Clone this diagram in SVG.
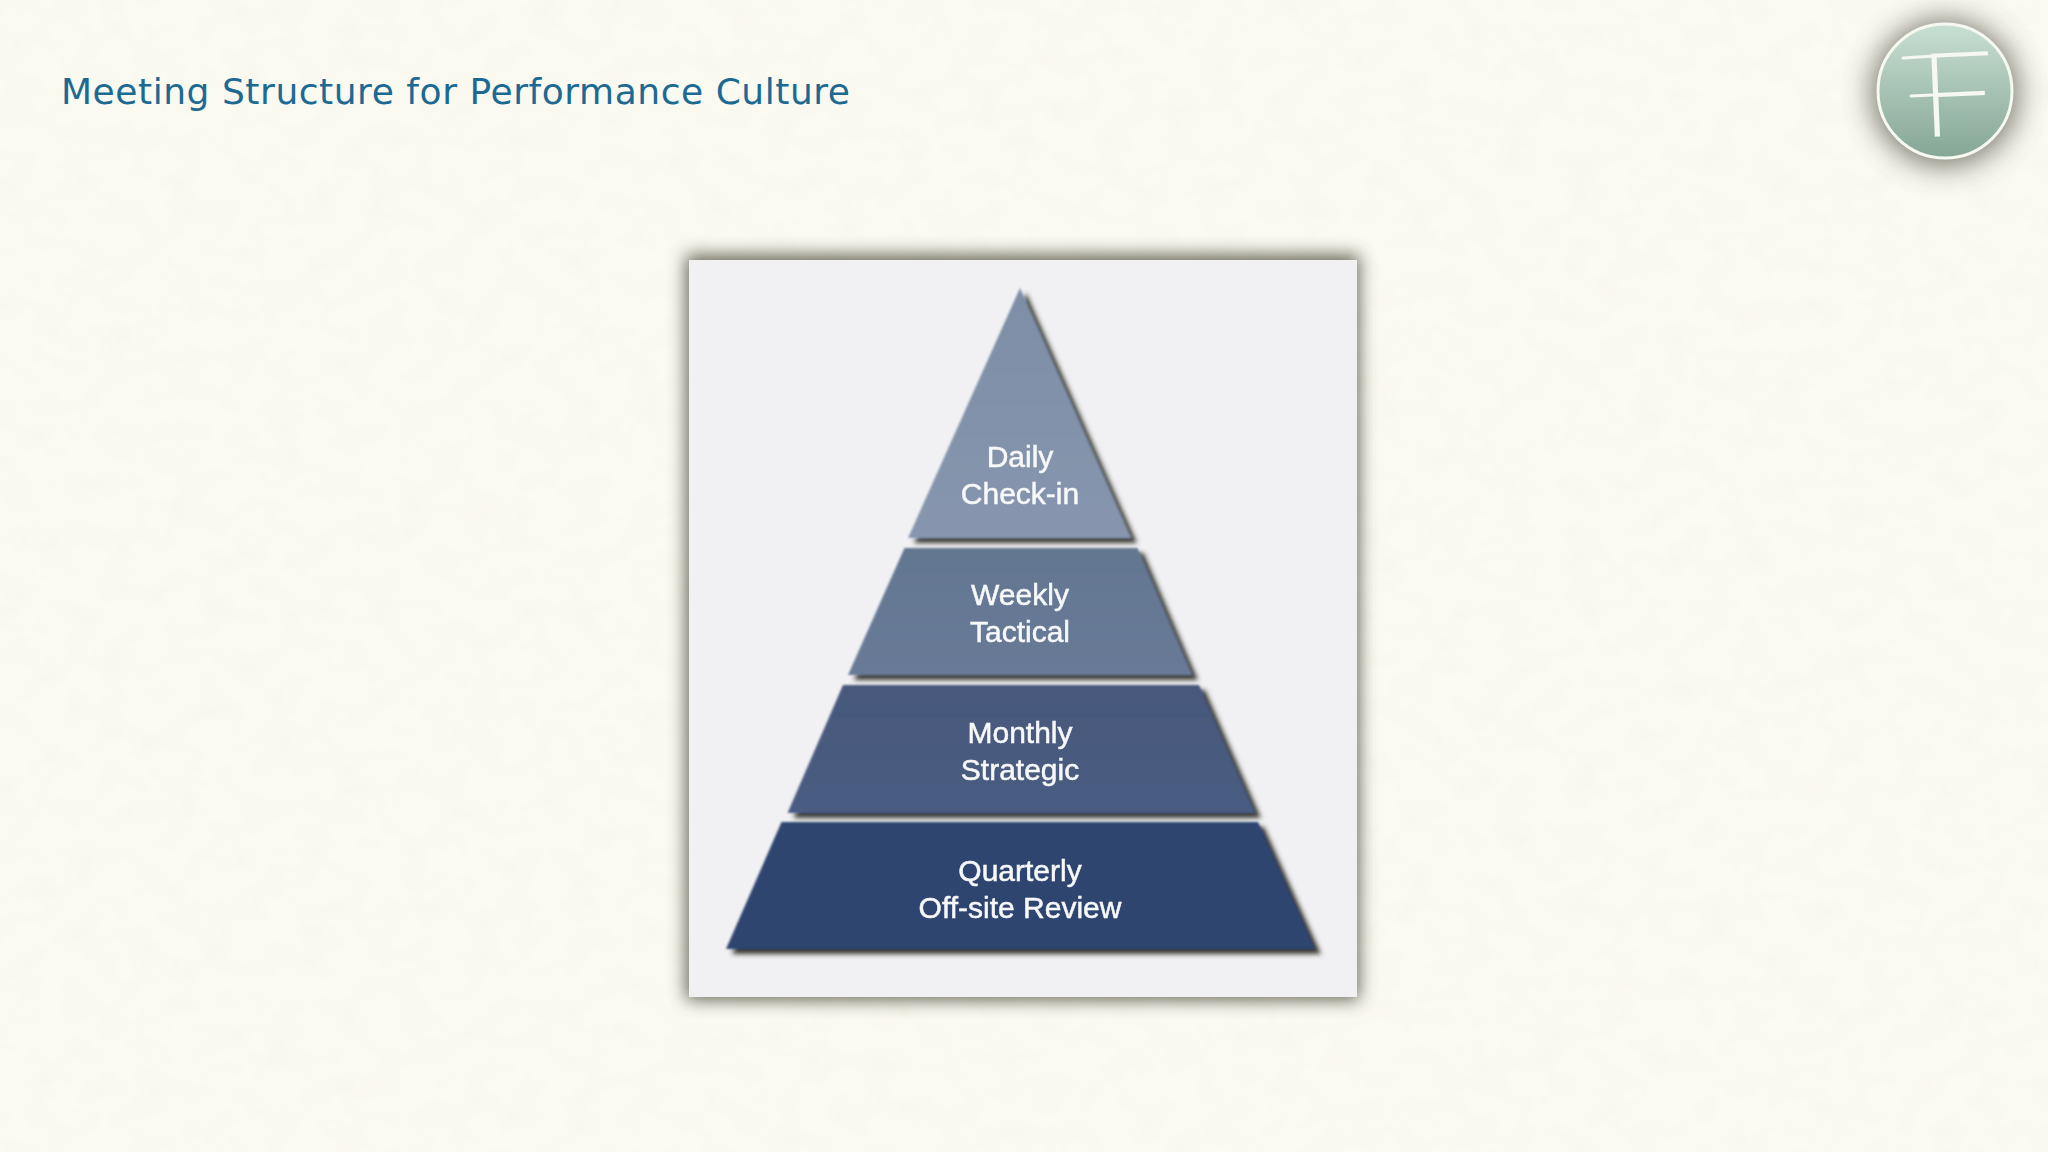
<svg xmlns="http://www.w3.org/2000/svg" width="2048" height="1152" viewBox="0 0 2048 1152">
  <style>
    .tl { font-family: "Liberation Sans", Arial, sans-serif; font-size: 30px; fill: #f7f8fa; stroke: #f7f8fa; stroke-width: 0.5px; text-anchor: middle; filter: url(#soft); }
    .tier { filter: url(#tierShadow); }
    .flourish { stroke: #f6f8f2; stroke-width: 3; stroke-linecap: round; fill: none; }
  </style>
  <defs>
    <filter id="paper" x="0" y="0" width="100%" height="100%">
      <feTurbulence type="fractalNoise" baseFrequency="0.03 0.04" numOctaves="4" seed="7"/>
      <feColorMatrix type="matrix" values="0 0 0 0 0.7  0 0 0 0 0.66  0 0 0 0 0.5  0.14 0 0 0 -0.055"/>
    </filter>
    <filter id="blur7" x="-10%" y="-10%" width="120%" height="120%"><feGaussianBlur stdDeviation="9"/></filter>
    <filter id="blur10" x="-40%" y="-40%" width="180%" height="180%"><feGaussianBlur stdDeviation="15"/></filter>
    <filter id="soft" x="-10%" y="-20%" width="120%" height="140%"><feGaussianBlur stdDeviation="0.6"/></filter>
    <filter id="logoSoft" x="-10%" y="-10%" width="120%" height="120%"><feGaussianBlur stdDeviation="0.7"/></filter>
    <filter id="tierShadow" x="-10%" y="-10%" width="120%" height="125%">
      <feGaussianBlur in="SourceAlpha" stdDeviation="2.8" result="b"/>
      <feOffset in="b" dx="6" dy="5" result="o"/>
      <feFlood flood-color="#2f2f28" flood-opacity="0.95"/>
      <feComposite in2="o" operator="in" result="s"/>
      <feGaussianBlur in="SourceGraphic" stdDeviation="0.9" result="g"/>
      <feMerge><feMergeNode in="s"/><feMergeNode in="g"/></feMerge>
    </filter>
    <linearGradient id="logoFill" x1="0" y1="0" x2="0" y2="1">
      <stop offset="0" stop-color="#c9dfd3"/>
      <stop offset="1" stop-color="#84a695"/>
    </linearGradient>
    <linearGradient id="t1" x1="0" y1="0" x2="0" y2="1">
      <stop offset="0" stop-color="#7d8ea6"/>
      <stop offset="1" stop-color="#8796ae"/>
    </linearGradient>
    <linearGradient id="t2" x1="0" y1="0" x2="0" y2="1">
      <stop offset="0" stop-color="#647791"/>
      <stop offset="1" stop-color="#687a98"/>
    </linearGradient>
    <linearGradient id="t3" x1="0" y1="0" x2="0" y2="1">
      <stop offset="0" stop-color="#47597c"/>
      <stop offset="1" stop-color="#4a5c82"/>
    </linearGradient>
  </defs>

  <rect width="2048" height="1152" fill="#fbfaf1"/>
  <rect width="2048" height="1152" filter="url(#paper)"/>

  <text id="title" x="61" y="104" font-family="'DejaVu Sans', sans-serif" font-size="36" fill="#1c6a94" textLength="789" lengthAdjust="spacing">Meeting Structure for Performance Culture</text>

  <g id="logo">
    <circle cx="1945" cy="93" r="73" fill="#55544a" opacity="0.8" filter="url(#blur10)"/>
    <circle cx="1945" cy="91" r="67" fill="url(#logoFill)" stroke="#f6f8f2" stroke-width="3"/>
    <g filter="url(#logoSoft)">
      <text x="-8" y="0" font-family="Inter, 'Noto Sans', sans-serif" font-weight="100" font-size="112" fill="#f6f8f2" stroke="#f6f8f2" stroke-width="1.6" transform="translate(1930 136) rotate(-2.5) scale(1.25 1)">F</text>
      <line class="flourish" x1="1903" y1="58" x2="1934" y2="56"/>
      <line class="flourish" x1="1911" y1="96" x2="1932" y2="95"/>
    </g>
  </g>

  <g id="panel">
    <rect x="686" y="255" width="673" height="745" fill="#4a4a3a" opacity="0.85" filter="url(#blur7)"/>
    <rect x="689" y="260" width="668" height="737" fill="#f1f1f3"/>
  </g>

  <g id="tier-daily">
    <polygon class="tier" points="1020,288 1131,538 908,538" fill="url(#t1)"/>
    <text class="tl" x="1020" y="467">Daily</text>
    <text class="tl" x="1020" y="504">Check-in</text>
  </g>
  <g id="tier-weekly">
    <polygon class="tier" points="904.5,548 1137.5,548 1192,675 848,675" fill="url(#t2)"/>
    <text class="tl" x="1020" y="605">Weekly</text>
    <text class="tl" x="1020" y="642">Tactical</text>
  </g>
  <g id="tier-monthly">
    <polygon class="tier" points="843,685 1199,685 1255,813 787.5,813" fill="url(#t3)"/>
    <text class="tl" x="1020" y="743">Monthly</text>
    <text class="tl" x="1020" y="780">Strategic</text>
  </g>
  <g id="tier-quarterly">
    <polygon class="tier" points="781.5,822 1258,822 1315,949 726,949" fill="#2f4570"/>
    <text class="tl" x="1020" y="881">Quarterly</text>
    <text class="tl" x="1020" y="918">Off-site Review</text>
  </g>
</svg>
